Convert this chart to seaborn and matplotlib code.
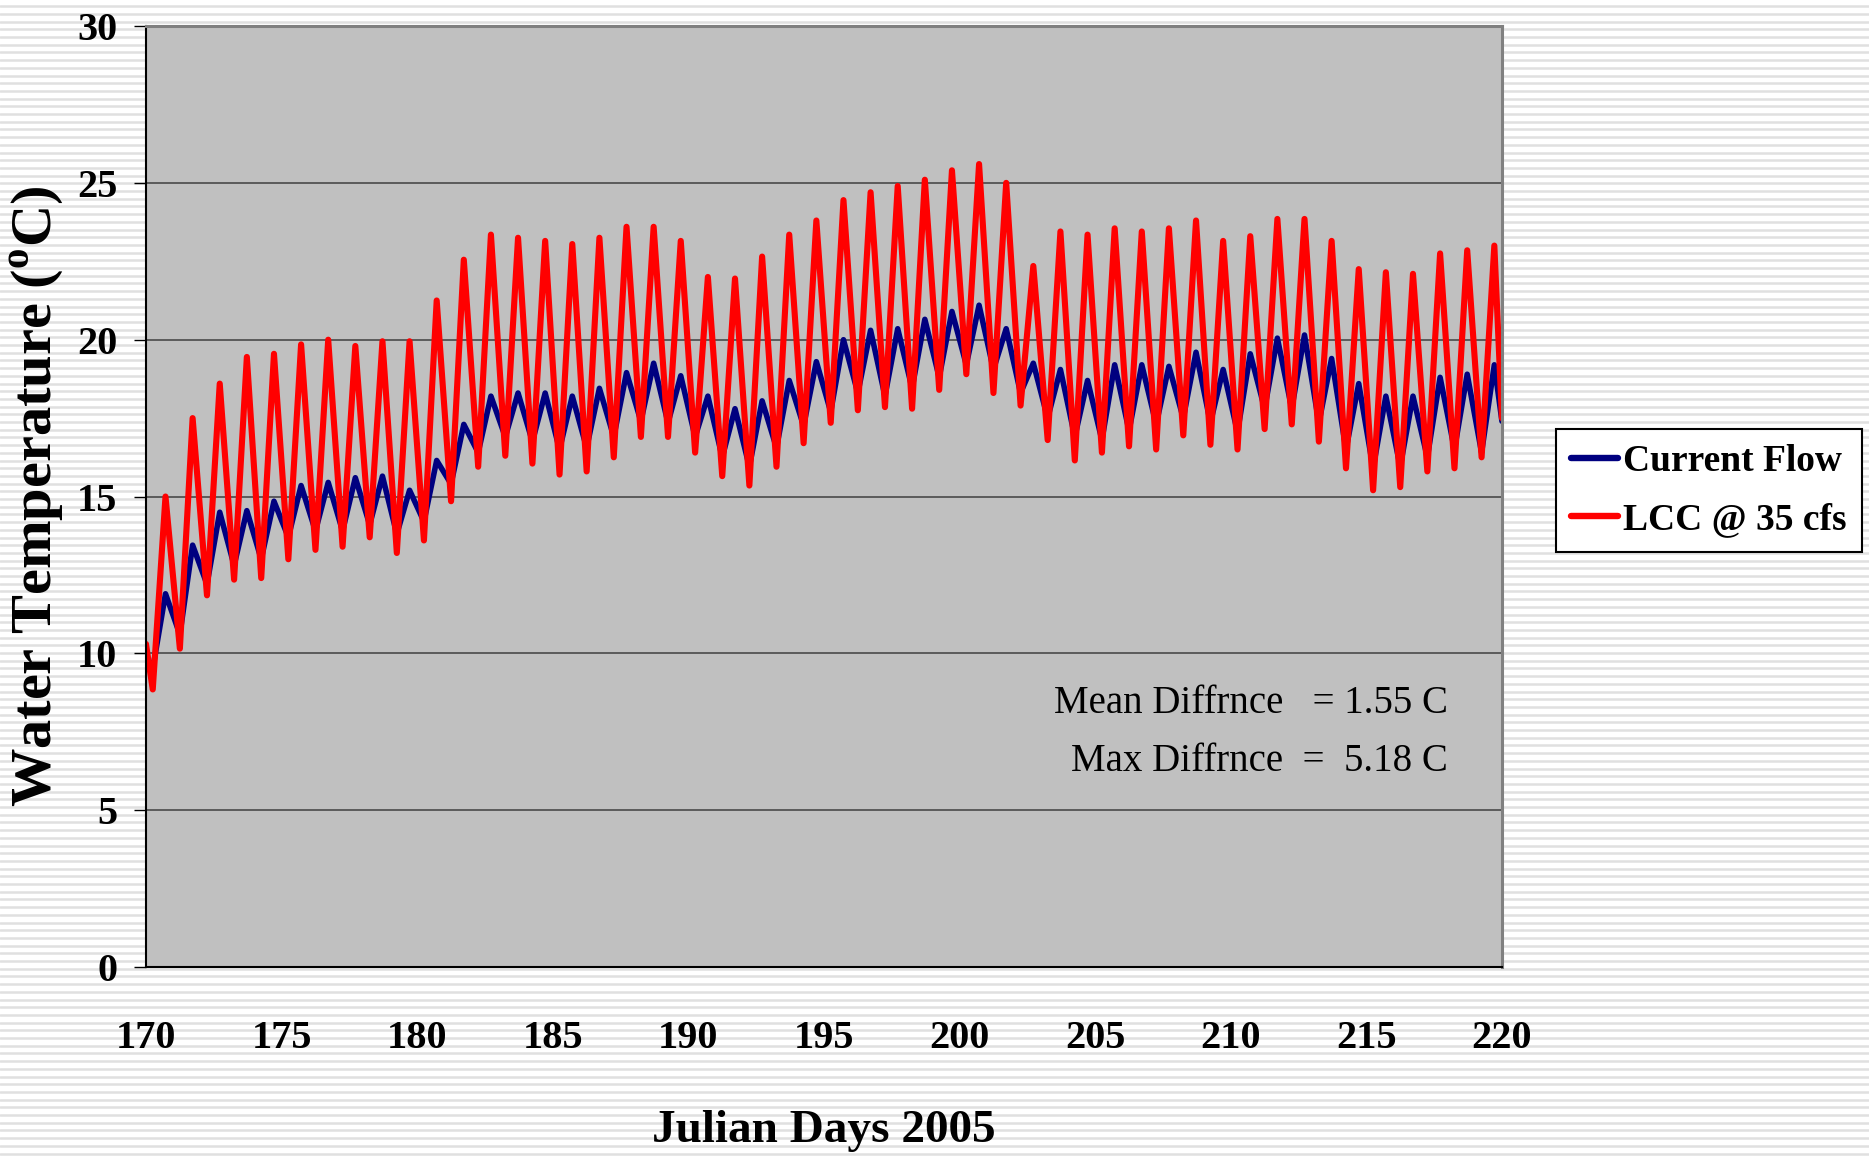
import numpy as np
import pandas as pd
import matplotlib
matplotlib.use('Agg')
import matplotlib.pyplot as plt
from matplotlib.lines import Line2D
from matplotlib.ticker import MultipleLocator
import seaborn as sns

# daily minimum (early morning) and maximum (afternoon) water temperatures, days 170..219
days = np.arange(170, 220)
trough_phase = 0.25
peak_phase = 0.72

current_min = [9.5, 10.6, 12.2, 12.8, 13.0, 13.7, 13.9, 13.9, 14.1, 13.8,
               14.2, 15.4, 16.4, 16.9, 16.75, 16.5, 16.55, 16.9, 17.4, 17.35,
               16.9, 16.25, 15.95, 16.55, 17.25, 17.7, 18.3, 18.2, 18.45, 18.8,
               19.2, 19.05, 18.3, 17.5, 16.9, 16.8, 17.1, 17.3, 17.5, 17.35,
               17.05, 17.8, 17.8, 17.35, 16.5, 15.9, 15.95, 16.25, 16.5, 16.4]
current_max = [11.9, 13.45, 14.5, 14.55, 14.85, 15.35, 15.45, 15.6, 15.65, 15.2,
               16.15, 17.3, 18.2, 18.3, 18.3, 18.2, 18.45, 18.95, 19.25, 18.85,
               18.2, 17.8, 18.05, 18.7, 19.3, 20.0, 20.3, 20.35, 20.65, 20.9,
               21.1, 20.35, 19.25, 19.05, 18.7, 19.2, 19.2, 19.15, 19.6, 19.05,
               19.55, 20.05, 20.15, 19.4, 18.6, 18.2, 18.2, 18.8, 18.9, 19.2]
lcc_min = [8.85, 10.15, 11.85, 12.35, 12.4, 13.0, 13.3, 13.4, 13.7, 13.2,
           13.6, 14.85, 15.95, 16.3, 16.05, 15.7, 15.8, 16.25, 16.9, 16.9,
           16.4, 15.65, 15.35, 15.95, 16.7, 17.35, 17.75, 17.85, 17.8, 18.4,
           18.9, 18.3, 17.9, 16.8, 16.15, 16.4, 16.6, 16.5, 16.95, 16.65,
           16.5, 17.15, 17.3, 16.75, 15.9, 15.2, 15.3, 15.8, 15.9, 16.25]
lcc_max = [15.0, 17.5, 18.6, 19.45, 19.55, 19.85, 20.0, 19.8, 19.95, 19.95,
           21.25, 22.55, 23.35, 23.25, 23.15, 23.05, 23.25, 23.6, 23.6, 23.15,
           22.0, 21.95, 22.65, 23.35, 23.8, 24.45, 24.7, 24.9, 25.1, 25.4,
           25.6, 25.0, 22.35, 23.45, 23.35, 23.55, 23.45, 23.55, 23.8, 23.15,
           23.3, 23.85, 23.85, 23.15, 22.25, 22.15, 22.1, 22.75, 22.85, 23.0]
current_start, current_end = 9.9, 17.4
lcc_start, lcc_end = 10.3, 17.5

series_names = ['Current Flow', 'LCC @ 35 cfs']
colors = ['#000080', '#FF0000']


def build(name, start, mins, maxs, end):
    t = [170.0]
    v = [start]
    for d, lo, hi in zip(days, mins, maxs):
        t += [d + trough_phase, d + peak_phase]
        v += [lo, hi]
    t.append(220.0)
    v.append(end)
    return pd.DataFrame({'day': t, 'temp': v, 'series': name})


df = pd.concat([
    build(series_names[0], current_start, current_min, current_max, current_end),
    build(series_names[1], lcc_start, lcc_min, lcc_max, lcc_end),
], ignore_index=True)

sns.set_theme(style='white')
plt.rcParams['font.family'] = ['Liberation Serif', 'DejaVu Serif']
plt.rcParams['mathtext.fontset'] = 'custom'
plt.rcParams['mathtext.bf'] = 'Liberation Serif:bold'
plt.rcParams['mathtext.rm'] = 'Liberation Serif'
for key in ['text.color', 'axes.labelcolor', 'xtick.color', 'ytick.color']:
    plt.rcParams[key] = 'black'

fig = plt.figure(figsize=(18.69, 11.57), dpi=100)
fig.patch.set_facecolor('white')

# striped slide background
for y in np.arange(0.003, 1.0, 7.7 / 1157):
    fig.add_artist(Line2D([0, 1], [y, y], transform=fig.transFigure,
                          color='#e0e0e0', lw=1.8, zorder=0))

ax = fig.add_axes([0.0781, 0.1642, 0.7255, 0.8133])
ax.set_facecolor('#C0C0C0')
ax.set_zorder(2)

sns.lineplot(data=df, x='day', y='temp', hue='series', palette=colors,
             estimator=None, sort=False, legend=False, ax=ax)
for line, lw in zip(ax.lines, [4.0, 4.4]):
    line.set_linewidth(lw)
    line.set_solid_joinstyle('round')
    line.set_solid_capstyle('round')

ax.set_xlim(170, 220)
ax.set_ylim(0, 30)
ax.xaxis.set_major_locator(MultipleLocator(5))
ax.xaxis.set_minor_locator(MultipleLocator(1))
ax.yaxis.set_major_locator(MultipleLocator(5))
ax.grid(axis='y', color='#404040', lw=1.1)
ax.set_axisbelow(True)

ax.tick_params(axis='x', which='major', direction='inout', length=20, width=1,
               color='black', pad=28, labelsize=29)
ax.tick_params(axis='x', which='minor', direction='in', length=8, width=1, color='black')
ax.tick_params(axis='y', which='major', direction='out', length=8.5, width=1,
               color='black', pad=12, labelsize=29, left=True)
for lab in ax.get_xticklabels() + ax.get_yticklabels():
    lab.set_fontweight('bold')

for side in ['left', 'bottom']:
    ax.spines[side].set_color('black')
    ax.spines[side].set_linewidth(1.5)
for side in ['top', 'right']:
    ax.spines[side].set_color('#808080')
    ax.spines[side].set_linewidth(2.2)

ax.set_xlabel('Julian Days 2005', fontsize=34, fontweight='bold', labelpad=38)
ax.set_ylabel(r'Water Temperature ($^{\mathbf{o}}$C)', fontsize=42,
              fontweight='bold', labelpad=8)

ax.text(218.0, 8.1, 'Mean Diffrnce   = 1.55 C', ha='right', va='baseline', fontsize=28)
ax.text(218.0, 6.25, 'Max Diffrnce  =  5.18 C', ha='right', va='baseline', fontsize=28)

handles = [Line2D([], [], color=c, lw=4.6) for c in colors]
leg = fig.legend(handles, series_names, loc='upper left', bbox_to_anchor=(0.8325, 0.629),
                 frameon=True, fancybox=False, shadow=False, facecolor='white',
                 edgecolor='black', framealpha=1, handlelength=1.25, handletextpad=0.15,
                 labelspacing=0.6, borderpad=0.4, borderaxespad=0,
                 prop={'family': 'Liberation Serif', 'weight': 'bold', 'size': 27})
leg.get_frame().set_linewidth(1.5)
leg.set_zorder(3)

fig.savefig('out.png', dpi=100)
